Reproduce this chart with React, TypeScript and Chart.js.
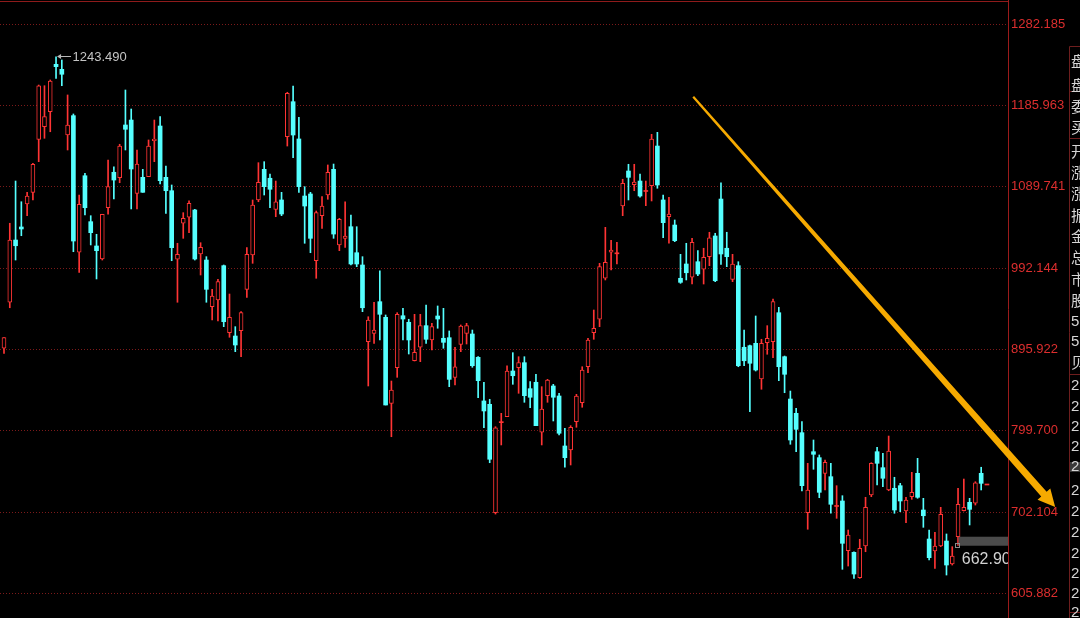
import React, { useEffect, useRef } from 'react';
import { Chart, registerables } from 'chart.js';

Chart.register(...registerables);

// ---- data ----
const OPEN = [
  897.1, 951.8, 1025.8, 1041.3, 1068.6, 1082.5, 1145.5, 1160.5, 1178.3, 1234.6,
  1228.7, 1150.6, 1173.6, 1011.2, 1102.2, 1047.6, 1018.7, 1003.2, 1064.2, 1106.3,
  1099.9, 1162.5, 1168.4, 1081.3, 1100.3, 1101.1, 1143.8, 1161.3, 1100.3, 1084.4,
  1002.9, 1045.7, 1052.8, 1061.5, 1009.2, 1002.0, 946.5, 954.5, 995.3, 915.6,
  911.7, 918.0, 967.2, 1008.0, 1073.4, 1109.8, 1099.2, 1062.3, 1073.4, 1148.6,
  1190.2, 1145.9, 1078.1, 1080.5, 1001.2, 1054.7, 1079.3, 1109.8, 1019.9, 1027.8,
  1041.6, 1010.7, 996.1, 904.9, 914.9, 952.5, 933.9, 831.7, 874.0, 935.8,
  928.0, 882.3, 898.3, 924.0, 907.0, 935.5, 909.0, 909.7, 862.6, 901.8,
  914.9, 914.1, 886.4, 834.5, 830.5, 701.7, 809.3, 815.8, 870.1, 874.0,
  880.0, 849.1, 856.7, 797.3, 840.8, 852.3, 840.4, 781.0, 776.2, 809.9,
  832.4, 875.2, 915.6, 931.6, 980.3, 1011.2, 1010.0, 1066.2, 1107.8, 1091.5,
  1095.9, 1084.1, 1090.4, 1137.5, 1073.4, 1053.5, 1043.6, 980.3, 997.3, 981.5,
  1000.0, 991.0, 1006.0, 1030.6, 1074.5, 1016.0, 979.1, 995.3, 898.3, 900.2,
  903.0, 860.6, 903.8, 904.9, 939.4, 887.1, 836.8, 819.8, 796.8, 701.7,
  774.2, 767.1, 748.5, 744.5, 709.7, 715.6, 656.5, 654.6, 624.4, 662.1,
  722.7, 774.2, 755.2, 728.7, 730.7, 733.8, 703.7, 720.7, 748.5, 704.9,
  670.4, 656.2, 662.1, 668.0, 640.7, 673.2, 704.0, 714.0, 712.9, 748.5,
  735.2,
];
const HIGH = [
  909.7, 1045.7, 1095.9, 1071.3, 1082.5, 1117.0, 1210.0, 1209.2, 1216.0, 1243.49,
  1239.8, 1198.2, 1175.6, 1079.3, 1105.1, 1054.7, 1032.6, 1056.4, 1120.9, 1112.9,
  1139.6, 1204.1, 1181.5, 1132.8, 1109.8, 1144.7, 1168.4, 1172.4, 1113.8, 1091.2,
  1021.9, 1058.3, 1072.5, 1062.3, 1022.6, 1006.0, 967.2, 979.1, 996.1, 961.6,
  922.8, 940.6, 1016.7, 1073.4, 1117.7, 1118.9, 1104.3, 1095.9, 1082.5, 1201.4,
  1208.9, 1171.7, 1089.2, 1082.5, 1060.3, 1077.3, 1115.0, 1116.1, 1051.6, 1071.3,
  1055.5, 1041.6, 1006.0, 934.6, 951.8, 989.3, 936.7, 858.2, 939.4, 944.6,
  931.6, 937.5, 937.5, 948.6, 926.8, 947.4, 944.6, 917.7, 898.3, 924.8,
  926.8, 918.8, 887.1, 856.7, 836.5, 803.9, 819.8, 876.4, 891.9, 887.1,
  887.1, 857.4, 866.2, 851.5, 860.2, 854.3, 843.6, 802.0, 805.1, 842.4,
  875.2, 909.0, 942.6, 998.1, 1040.9, 1025.5, 1023.1, 1098.0, 1115.8, 1115.8,
  1104.3, 1095.9, 1151.4, 1153.8, 1079.3, 1076.6, 1049.6, 1008.8, 1021.9, 1027.8,
  1013.1, 1016.0, 1035.0, 1033.8, 1093.9, 1035.0, 1008.8, 1000.0, 918.8, 901.0,
  935.5, 907.8, 924.0, 955.7, 945.8, 887.9, 846.3, 825.8, 809.9, 760.4,
  788.1, 770.3, 764.3, 760.4, 733.8, 721.9, 681.1, 655.3, 670.1, 720.0,
  761.1, 779.4, 772.3, 792.8, 743.8, 736.6, 720.0, 749.7, 766.3, 718.8,
  681.1, 678.4, 708.1, 676.4, 661.3, 730.7, 741.7, 718.8, 738.5, 755.7,
  735.2,
];
const LOW = [
  891.1, 945.3, 1002.0, 1030.9, 1054.7, 1073.4, 1118.9, 1146.7, 1154.5, 1218.0,
  1209.2, 1132.8, 1011.9, 987.4, 1055.5, 1019.9, 979.5, 1002.0, 1056.4, 1074.5,
  1093.9, 1132.8, 1062.7, 1062.7, 1082.5, 1101.1, 1118.9, 1092.4, 1057.5, 1001.2,
  951.8, 1027.8, 1034.5, 1002.0, 984.2, 951.8, 930.7, 929.5, 922.8, 910.2,
  893.1, 887.1, 957.7, 998.1, 1071.3, 1079.3, 1064.2, 1053.5, 1054.7, 1137.5,
  1123.6, 1082.5, 1021.9, 1010.7, 980.3, 1039.7, 1074.2, 1027.8, 1013.1, 1017.1,
  996.1, 994.1, 940.6, 852.3, 903.0, 907.0, 829.7, 792.0, 862.6, 907.0,
  890.3, 882.0, 881.2, 903.0, 895.1, 920.9, 897.1, 851.5, 853.5, 893.1,
  902.2, 874.5, 838.4, 802.7, 761.1, 700.1, 782.2, 815.8, 854.3, 843.6,
  832.9, 826.5, 805.1, 782.2, 832.9, 810.7, 794.0, 755.7, 758.4, 803.2,
  827.0, 868.1, 907.8, 922.8, 978.3, 990.2, 997.3, 1054.7, 1073.4, 1084.4,
  1076.6, 1066.6, 1072.2, 1087.3, 1028.5, 1021.9, 1023.8, 974.3, 978.3, 973.5,
  983.4, 973.5, 995.3, 976.3, 996.9, 994.1, 976.3, 875.2, 876.4, 821.7,
  870.1, 848.4, 890.0, 885.9, 858.6, 844.3, 783.0, 774.2, 727.5, 682.0,
  753.3, 719.5, 728.7, 701.0, 695.0, 634.4, 638.3, 623.7, 623.7, 655.3,
  720.7, 734.6, 732.6, 727.8, 701.0, 702.9, 689.8, 717.6, 718.8, 684.3,
  645.5, 635.6, 661.3, 627.6, 639.5, 662.9, 703.7, 687.1, 710.8, 728.7,
  735.2,
];
const CLOSE = [
  909.7, 1025.8, 1019.0, 1038.9, 1078.1, 1115.8, 1209.2, 1172.4, 1214.8, 1231.8,
  1222.8, 1162.5, 1024.6, 1068.2, 1064.2, 1034.5, 1013.1, 1056.4, 1089.2, 1097.1,
  1137.5, 1157.4, 1110.2, 1116.1, 1082.5, 1137.5, 1145.9, 1096.3, 1084.4, 1016.7,
  1008.8, 1051.6, 1069.4, 1003.2, 1017.1, 967.2, 959.2, 976.3, 928.7, 933.9,
  901.0, 939.4, 1008.8, 1067.4, 1094.4, 1089.2, 1086.1, 1071.3, 1056.7, 1200.2,
  1150.6, 1089.2, 1066.2, 1027.8, 1058.3, 1066.2, 1106.3, 1032.9, 1050.4, 1030.6,
  997.3, 997.3, 945.3, 930.7, 918.8, 937.5, 829.7, 847.5, 937.5, 931.9,
  907.0, 892.3, 924.0, 907.8, 922.8, 931.9, 904.2, 860.2, 875.2, 923.6,
  924.0, 876.4, 858.6, 822.6, 765.2, 802.7, 809.3, 870.1, 864.5, 880.0,
  840.8, 838.9, 805.1, 824.9, 859.4, 838.9, 796.1, 767.1, 803.2, 840.4,
  871.3, 907.0, 920.9, 994.1, 999.3, 1013.9, 1010.0, 1093.2, 1100.3, 1094.8,
  1078.1, 1084.1, 1145.9, 1091.2, 1046.4, 1056.7, 1025.0, 975.5, 986.9, 1023.1,
  985.4, 1005.3, 1028.5, 977.4, 1009.2, 1006.0, 997.3, 876.4, 882.3, 879.3,
  871.3, 903.0, 909.0, 952.5, 875.2, 866.2, 788.1, 800.8, 733.8, 728.7,
  771.1, 725.9, 761.6, 711.7, 709.7, 665.3, 675.2, 628.8, 659.4, 708.1,
  760.4, 760.4, 742.6, 775.0, 704.9, 715.6, 716.8, 725.9, 720.0, 698.1,
  648.2, 662.1, 699.8, 639.5, 650.2, 711.7, 708.1, 705.7, 737.3, 736.6,
  735.2,
];

const Y_TICKS = [605.882, 702.104, 799.7, 895.922, 992.144, 1089.741, 1185.963, 1282.185];
const Y_MIN = 576.53;
const Y_MAX = 1311.07;
const X_MIN = -0.692;
const X_MAX = 173.64;

const LAST_MARK = { index: 165, price: 662.9, label: '662.90' };
const TREND_ARROW = { fromIndex: 119.2, fromPrice: 1196.1, toIndex: 181.8, toPrice: 708.5 };

const SIDE_LABELS = [
  '盘', '盘', '委', '买', '开', '涨', '涨', '振', '金', '总', '市', '股', '5', '5', '贝',
  '2', '2', '2', '2', '2', '2', '2', '2', '2', '2', '2', '2',
];
const SIDE_ROW_Y = [
  61, 85, 106, 127, 151, 172, 193, 215, 236, 257, 279, 300, 322, 342, 362,
  386, 407, 427, 447, 467, 491, 512, 533, 554, 574, 594, 613,
];

const UP = '#ff3434';
const DOWN = '#55ffff';

const decor = {
  id: 'decor',
  afterDraw(chart: any) {
    const { ctx, chartArea: ca } = chart;
    const xs = chart.scales.x;
    const ys = chart.scales.y;
    ctx.save();

    // top frame line
    ctx.strokeStyle = '#8e1b1b';
    ctx.lineWidth = 1;
    ctx.beginPath();
    ctx.moveTo(0, 1.5);
    ctx.lineTo(ca.right, 1.5);
    ctx.stroke();

    // highest-high marker
    let hi = 0;
    HIGH.forEach((v, i) => { if (v > HIGH[hi]) hi = i; });
    const hx = xs.getPixelForValue(hi);
    const hy = ys.getPixelForValue(HIGH[hi]);
    const ly = Math.round(hy - 1) + 0.5;
    ctx.strokeStyle = '#b8b8b8';
    ctx.fillStyle = '#b8b8b8';
    ctx.beginPath();
    ctx.moveTo(hx + 2, ly);
    ctx.lineTo(hx + 15, ly);
    ctx.stroke();
    ctx.beginPath();
    ctx.moveTo(hx + 1, ly);
    ctx.lineTo(hx + 5, ly - 2.5);
    ctx.lineTo(hx + 5, ly + 2.5);
    ctx.closePath();
    ctx.fill();
    ctx.font = '13px "Liberation Sans", Arial, sans-serif';
    ctx.textBaseline = 'middle';
    ctx.textAlign = 'left';
    ctx.fillStyle = '#c4c4c4';
    ctx.fillText(HIGH[hi].toFixed(3), hx + 16.5, hy + 0.5);

    // last mark label
    const mx = xs.getPixelForValue(LAST_MARK.index);
    const my = ys.getPixelForValue(LAST_MARK.price);
    ctx.save();
    ctx.beginPath();
    ctx.rect(ca.left, ca.top, ca.right - ca.left, ca.bottom - ca.top);
    ctx.clip();
    ctx.fillStyle = '#4b4b4b';
    ctx.fillRect(mx + 0.5, my - 8.6, ca.right - mx, 9);
    ctx.strokeStyle = '#8c8c8c';
    ctx.strokeRect(Math.round(mx - 3) + 0.5, Math.round(my - 2) + 0.5, 4, 4);
    ctx.font = '16px "Liberation Sans", Arial, sans-serif';
    ctx.fillStyle = '#d2d2d2';
    ctx.textBaseline = 'alphabetic';
    ctx.fillText(LAST_MARK.label, mx + 3.7, my + 18.5);
    ctx.restore();

    // side panel
    ctx.strokeStyle = '#6e1e1e';
    ctx.beginPath();
    ctx.moveTo(1069.5, 46.5);
    ctx.lineTo(1069.5, 618);
    [46.5, 91.5, 138.5, 374.5, 612.5].forEach((yy) => {
      ctx.moveTo(1069.5, yy);
      ctx.lineTo(1080, yy);
    });
    ctx.stroke();
    ctx.fillStyle = '#3a3a3a';
    ctx.fillRect(1070, 462, 10, 10);
    ctx.fillStyle = '#d6d6d6';
    ctx.textBaseline = 'middle';
    SIDE_LABELS.forEach((t, i) => {
      const isDigit = /[0-9]/.test(t);
      ctx.font = isDigit ? '15px "Liberation Sans", Arial, sans-serif' : '15px "Noto Sans CJK SC", sans-serif';
      ctx.fillText(t, 1071, SIDE_ROW_Y[i]);
    });

    // trend arrow
    const ax0 = xs.getPixelForValue(TREND_ARROW.fromIndex);
    const ay0 = ys.getPixelForValue(TREND_ARROW.fromPrice);
    const ax1 = xs.getPixelForValue(TREND_ARROW.toIndex);
    const ay1 = ys.getPixelForValue(TREND_ARROW.toPrice);
    const dx = ax1 - ax0;
    const dy = ay1 - ay0;
    const len = Math.hypot(dx, dy);
    const ux = dx / len, uy = dy / len;
    const nx = -uy, ny = ux;
    const headLen = 17, headHalf = 8.5, w0 = 1.1, w1 = 3.6;
    const bx = ax1 - ux * headLen, by = ay1 - uy * headLen;
    ctx.fillStyle = '#f6aa00';
    ctx.beginPath();
    ctx.moveTo(ax0 + nx * w0, ay0 + ny * w0);
    ctx.lineTo(bx + nx * w1, by + ny * w1);
    ctx.lineTo(bx + nx * headHalf, by + ny * headHalf);
    ctx.lineTo(ax1, ay1);
    ctx.lineTo(bx - nx * headHalf, by - ny * headHalf);
    ctx.lineTo(bx - nx * w1, by - ny * w1);
    ctx.lineTo(ax0 - nx * w0, ay0 - ny * w0);
    ctx.closePath();
    ctx.fill();

    ctx.restore();
  },
};

export default function App() {
  const ref = useRef<HTMLCanvasElement>(null);

  useEffect(() => {
    const canvas = ref.current;
    if (!canvas) return;
    Chart.defaults.font.family = '"Liberation Sans", Arial, sans-serif';

    const n = OPEN.length;
    const bodyData: any[] = [];
    const wickData: any[] = [];
    const bodyBg: string[] = [];
    const bodyBorder: string[] = [];
    const bodyBW: number[] = [];
    const wickColor: string[] = [];
    for (let i = 0; i < n; i++) {
      const up = CLOSE[i] >= OPEN[i];
      let lo = Math.min(OPEN[i], CLOSE[i]);
      let hiV = Math.max(OPEN[i], CLOSE[i]);
      const cross = hiV - lo < 1.2;
      if (cross) {
        const m = (hiV + lo) / 2;
        lo = m - 0.6;
        hiV = m + 0.6;
      }
      bodyData.push({ x: i, y: [lo, hiV] });
      wickData.push({ x: i, y: [LOW[i], HIGH[i]] });
      const col = up ? UP : DOWN;
      bodyBg.push(cross ? col : up ? '#000000' : DOWN);
      bodyBorder.push(col);
      bodyBW.push(up && !cross ? 1 : 0);
      wickColor.push(col);
    }

    const chart = new Chart(canvas, {
      type: 'bar',
      data: {
        datasets: [
          {
            label: 'body',
            data: bodyData,
            backgroundColor: bodyBg,
            borderColor: bodyBorder,
            borderWidth: bodyBW,
            borderSkipped: false,
            barThickness: 4,
            grouped: false,
            order: 0,
          } as any,
          {
            label: 'wick',
            data: wickData,
            backgroundColor: wickColor,
            borderWidth: 0,
            barThickness: 1,
            grouped: false,
            order: 1,
          } as any,
        ],
      },
      options: {
        animation: false,
        responsive: false,
        maintainAspectRatio: false,
        devicePixelRatio: 1,
        events: [],
        layout: { padding: 0 },
        plugins: { legend: { display: false }, tooltip: { enabled: false }, title: { display: false } },
        scales: {
          x: { type: 'linear', min: X_MIN, max: X_MAX, display: false, offset: false },
          y: {
            position: 'right',
            min: Y_MIN,
            max: Y_MAX,
            afterBuildTicks: (s: any) => {
              s.ticks = Y_TICKS.map((v) => ({ value: v }));
            },
            afterFit: (s: any) => {
              s.width = 72;
              s.paddingTop = 0;
              s.paddingBottom = 0;
            },
            ticks: {
              color: '#dc2e2e',
              font: { family: '"Liberation Sans", Arial, sans-serif', size: 13 },
              padding: 3,
              callback: (v: any) => Number(v).toFixed(3),
            },
            grid: { color: '#7c1a1a', lineWidth: 1, drawTicks: false },
            border: { display: true, color: '#9b1b1b', width: 1, dash: [1, 2] },
          } as any,
        },
      } as any,
      plugins: [decor],
    });
    return () => chart.destroy();
  }, []);

  return (
    <div style={{ width: 1080, height: 618, background: '#000', overflow: 'hidden' }}>
      <style>{'body{margin:0;background:#000;}'}</style>
      <canvas ref={ref} width={1080} height={618} style={{ display: 'block', background: '#000' }} />
    </div>
  );
}
